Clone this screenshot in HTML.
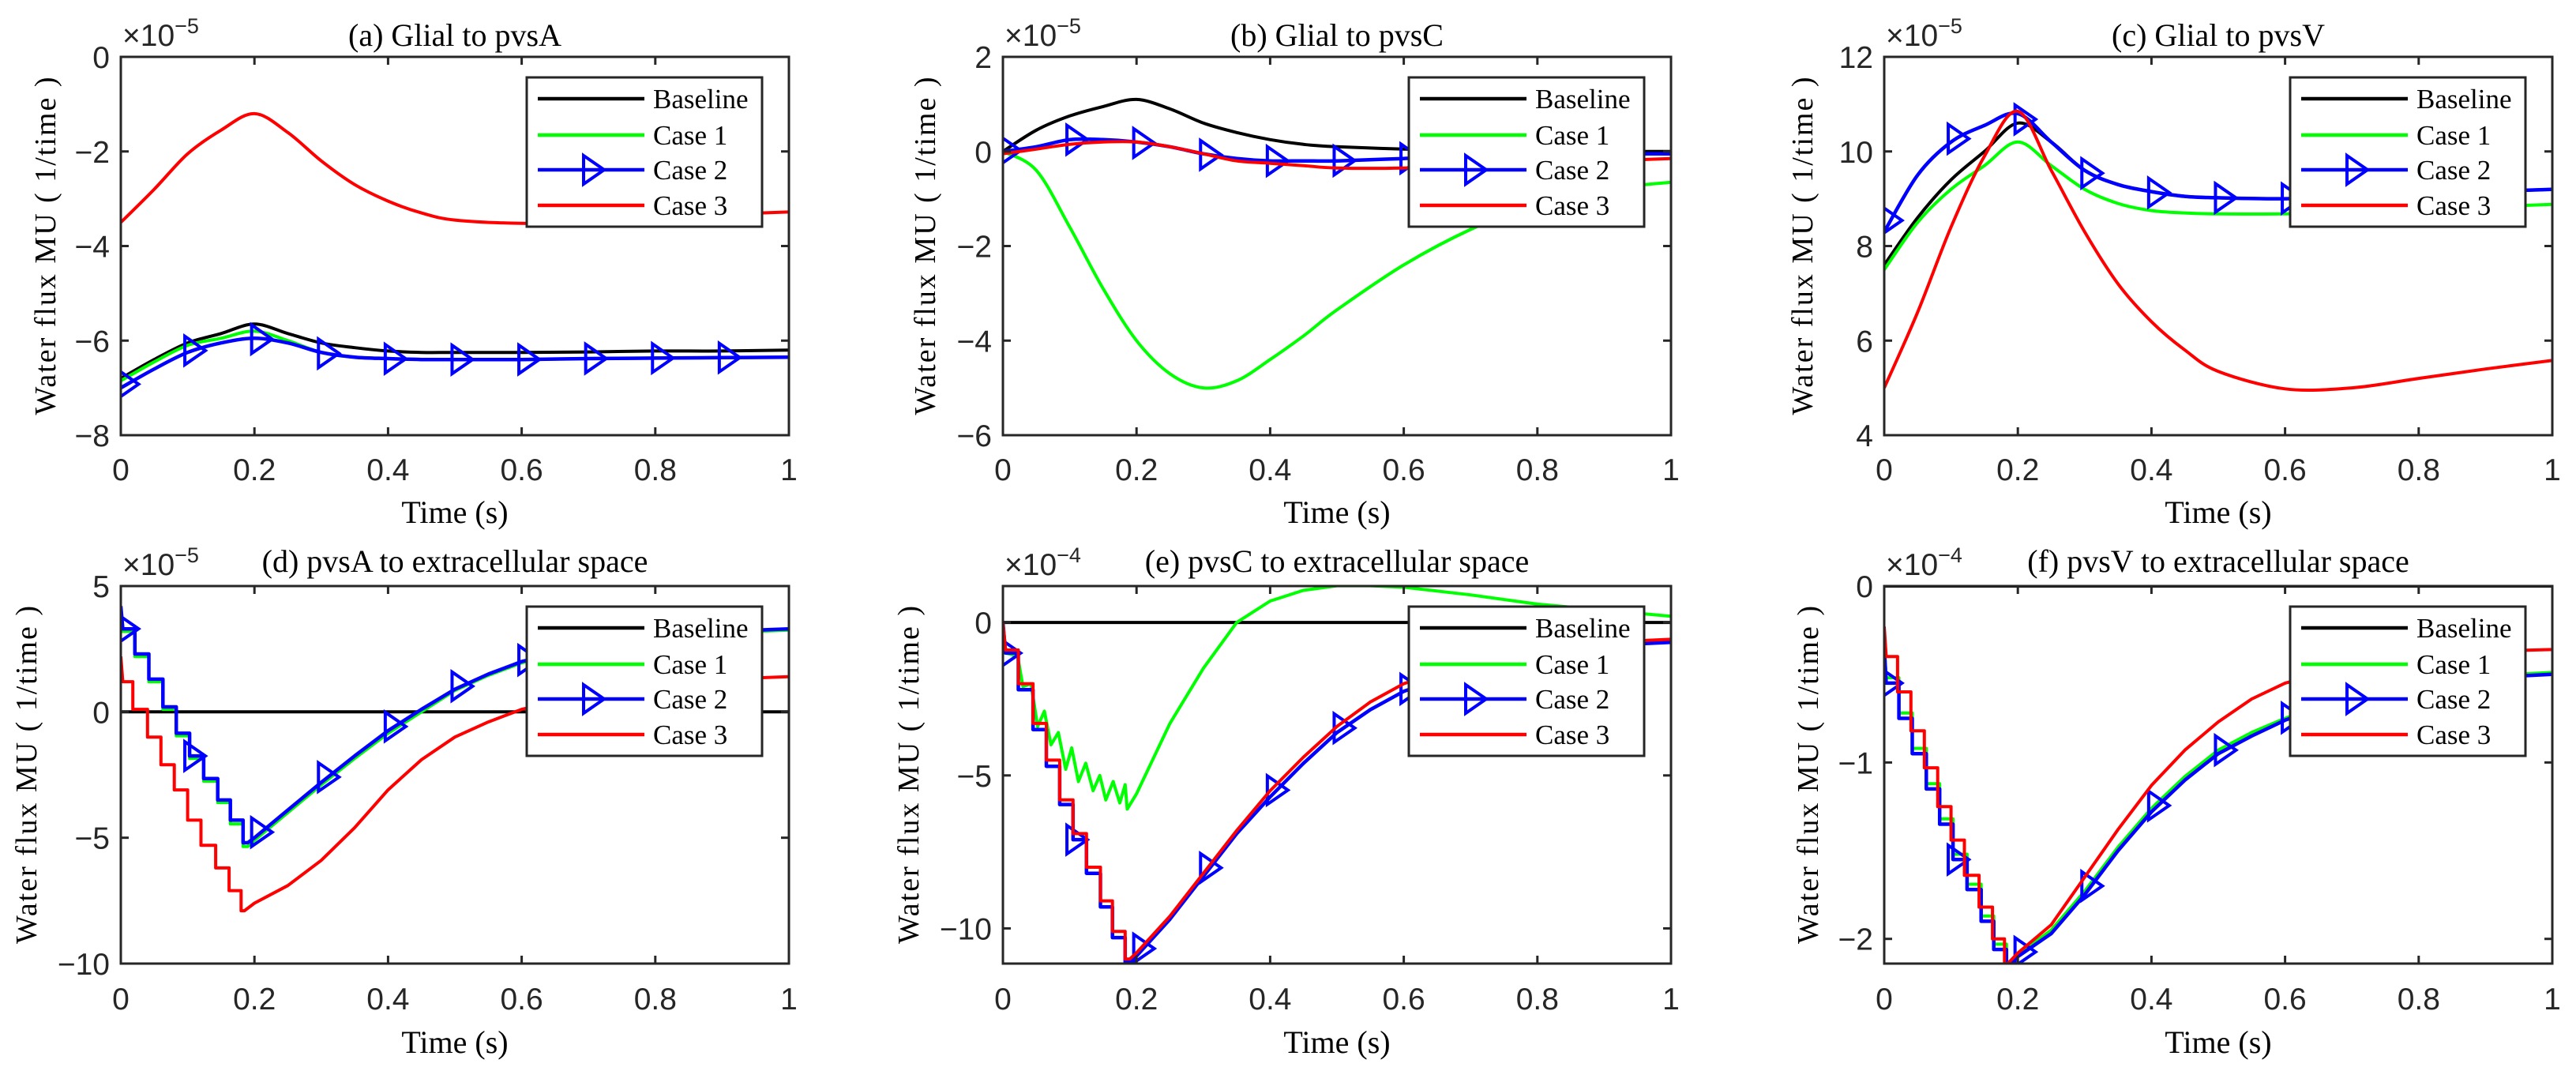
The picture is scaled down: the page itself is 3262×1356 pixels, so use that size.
<!DOCTYPE html>
<html><head><meta charset="utf-8"><style>
html,body{margin:0;padding:0;background:#fff;}
svg{display:block;}
.tk{font-family:"Liberation Sans",sans-serif;font-size:39px;fill:#262626;}
.ser{font-family:"Liberation Serif",serif;fill:#000;}
</style></head><body>
<svg id="fig" width="3262" height="1356" viewBox="0 0 3262 1356" xmlns="http://www.w3.org/2000/svg"></svg>
<script>
// ---------- DATA ----------
const tGrid = [0,0.05,0.1,0.15,0.2,0.25,0.3,0.35,0.4,0.45,0.5,0.6,0.7,0.8,0.9,1];
// (a) Glial to pvsA (x1e-5)
const aBase = [-6.8,-6.4,-6.05,-5.85,-5.65,-5.85,-6.05,-6.15,-6.22,-6.25,-6.25,-6.25,-6.24,-6.22,-6.22,-6.2];
const aC1   = [-6.85,-6.45,-6.1,-5.95,-5.8,-6.0,-6.25,-6.35,-6.38,-6.4,-6.4,-6.4,-6.38,-6.37,-6.36,-6.35];
const aC2   = [-7.0,-6.6,-6.25,-6.05,-5.95,-6.05,-6.25,-6.35,-6.38,-6.4,-6.4,-6.4,-6.38,-6.37,-6.36,-6.35];
const aC3   = [-3.5,-2.8,-2.05,-1.55,-1.2,-1.6,-2.2,-2.7,-3.05,-3.3,-3.45,-3.52,-3.5,-3.4,-3.33,-3.28];
// (b) Glial to pvsC (x1e-5)
const bBase = [0,0.45,0.75,0.95,1.1,0.9,0.6,0.4,0.25,0.15,0.1,0.05,0.02,0,0,0];
const bC1   = [0,-0.4,-1.6,-2.9,-4.0,-4.7,-5.0,-4.85,-4.4,-3.9,-3.35,-2.4,-1.65,-1.1,-0.8,-0.65];
const bC2   = [0,0.1,0.25,0.25,0.2,0.1,-0.05,-0.15,-0.2,-0.2,-0.2,-0.15,-0.1,-0.05,-0.05,-0.05];
const bC3   = [-0.05,0.05,0.15,0.2,0.2,0.1,-0.05,-0.2,-0.25,-0.3,-0.35,-0.35,-0.3,-0.25,-0.2,-0.15];
// (c) Glial to pvsV (x1e-5)
const cBase = [7.6,8.6,9.4,10.0,10.6,10.2,9.6,9.3,9.15,9.05,9.02,9.0,9.05,9.1,9.15,9.2];
const cC1   = [7.5,8.5,9.2,9.7,10.2,9.7,9.2,8.9,8.75,8.7,8.68,8.68,8.72,8.78,8.83,8.88];
const cC2   = [8.3,9.5,10.2,10.55,10.8,10.2,9.6,9.3,9.15,9.05,9.02,9.0,9.05,9.1,9.15,9.2];
const cC3   = [5.0,6.6,8.4,9.9,10.85,9.6,8.3,7.2,6.4,5.8,5.35,4.98,5.0,5.2,5.4,5.58];
// (d) pvsA to extracellular (x1e-5)
const dStepT12 = [0.003,0.021,0.042,0.063,0.083,0.103,0.124,0.145,0.164,0.183,0.19];
const dStepT3  = [0.003,0.018,0.04,0.06,0.08,0.1,0.12,0.142,0.162,0.18,0.185];
const dTail12T = [0.19,0.2,0.25,0.3,0.35,0.4,0.45,0.5,0.55,0.6,0.7,0.8,0.9,1];
const dTail3T  = [0.185,0.2,0.25,0.3,0.35,0.4,0.45,0.5,0.55,0.6,0.7,0.8,0.9,1];
const dBase = [0,0];
const dC1Start = 4.0, dC1Lv = [3.2,2.2,1.2,0.1,-0.95,-1.85,-2.75,-3.6,-4.45,-5.35];
const dC1Tail = [-5.35,-5.1,-4.0,-2.9,-1.85,-0.85,0.0,0.85,1.45,1.95,2.55,2.95,3.15,3.25];
const dC2Start = 4.2, dC2Lv = [3.3,2.3,1.3,0.2,-0.85,-1.75,-2.65,-3.5,-4.3,-5.2];
const dC2Tail = [-5.2,-5.0,-3.9,-2.8,-1.75,-0.75,0.1,0.9,1.5,2.0,2.6,3.0,3.2,3.3];
const dC3Start = 2.2, dC3Lv = [1.2,0.1,-1.0,-2.1,-3.1,-4.3,-5.3,-6.2,-7.1,-7.9];
const dC3Tail = [-7.9,-7.6,-6.9,-5.9,-4.6,-3.1,-1.9,-1.0,-0.4,0.1,0.7,1.1,1.3,1.4];
// (e) pvsC to extracellular (x1e-4)
const eStepT = [0.004,0.023,0.045,0.065,0.085,0.105,0.125,0.146,0.164,0.183,0.19];
const eTailT = [0.19,0.2,0.25,0.3,0.35,0.4,0.45,0.5,0.55,0.6,0.7,0.8,0.9,1];
const eBase = [0,0];
const eC1T = [0,0.004,0.022,0.03,0.042,0.052,0.062,0.072,0.083,0.094,0.103,0.113,0.124,0.135,0.145,0.154,0.165,0.175,0.183,0.186,0.2,0.25,0.3,0.35,0.4,0.45,0.5,0.55,0.6,0.7,0.8,0.9,1];
const eC1V = [0,-1.0,-1.1,-2.1,-2.0,-3.4,-2.9,-4.0,-3.6,-4.8,-4.1,-5.2,-4.6,-5.5,-5.0,-5.8,-5.2,-5.9,-5.3,-6.1,-5.6,-3.3,-1.5,0.0,0.7,1.05,1.2,1.2,1.15,0.9,0.6,0.4,0.2];
const eC2Start = 0, eC2Lv = [-1.0,-2.2,-3.5,-4.7,-5.95,-7.1,-8.2,-9.3,-10.3,-11.1];
const eC2Tail = [-11.1,-10.9,-9.7,-8.3,-6.9,-5.7,-4.6,-3.6,-2.85,-2.25,-1.5,-1.0,-0.75,-0.65];
const eC3Start = 0, eC3Lv = [-0.9,-2.0,-3.3,-4.5,-5.8,-6.9,-8.0,-9.1,-10.1,-11.0];
const eC3Tail = [-11.0,-10.8,-9.6,-8.2,-6.8,-5.5,-4.4,-3.4,-2.6,-2.0,-1.3,-0.9,-0.65,-0.55];
// (f) pvsV to extracellular (x1e-4)
const fStepT12 = [0.003,0.022,0.042,0.063,0.083,0.103,0.124,0.145,0.164,0.183,0.19];
const fStepT3  = [0.003,0.02,0.04,0.06,0.08,0.1,0.12,0.142,0.162,0.18,0.185];
const fTail12T = [0.19,0.2,0.25,0.3,0.35,0.4,0.45,0.5,0.55,0.6,0.7,0.8,0.9,1];
const fTail3T  = [0.185,0.2,0.25,0.3,0.35,0.4,0.45,0.5,0.55,0.6,0.7,0.8,0.9,1];
const fBase = [0,0];
const fC1Start = -0.33, fC1Lv = [-0.52,-0.72,-0.92,-1.12,-1.32,-1.52,-1.69,-1.87,-2.03,-2.13];
const fC1Tail = [-2.13,-2.09,-1.95,-1.73,-1.48,-1.26,-1.08,-0.93,-0.83,-0.75,-0.62,-0.55,-0.51,-0.49];
const fC2Start = -0.35, fC2Lv = [-0.55,-0.75,-0.95,-1.15,-1.35,-1.55,-1.72,-1.9,-2.06,-2.14];
const fC2Tail = [-2.14,-2.1,-1.97,-1.75,-1.5,-1.28,-1.1,-0.95,-0.85,-0.76,-0.63,-0.56,-0.52,-0.5];
const fC3Start = -0.23, fC3Lv = [-0.4,-0.6,-0.82,-1.03,-1.25,-1.44,-1.64,-1.82,-2.0,-2.14];
const fC3Tail = [-2.14,-2.08,-1.92,-1.65,-1.38,-1.13,-0.93,-0.77,-0.64,-0.55,-0.45,-0.4,-0.37,-0.36];

const xTicks = [0,0.2,0.4,0.6,0.8,1];
const xTickLabels = ['0','0.2','0.4','0.6','0.8','1'];
const legendLabels = ['Baseline','Case 1','Case 2','Case 3'];
const titles = ['(a) Glial to pvsA','(b) Glial to pvsC','(c) Glial to pvsV','(d) pvsA to extracellular space','(e) pvsC to extracellular space','(f) pvsV to extracellular space'];
const exps = ['-5','-5','-5','-5','-4','-4'];
const yRanges = [[-8,0],[-6,2],[4,12],[-10,5],[-11.15,1.19],[-2.14,0]];
const yTicks = [[-8,-6,-4,-2,0],[-6,-4,-2,0,2],[4,6,8,10,12],[-10,-5,0,5],[-10,-5,0],[-2,-1,0]];

// ---------- HELPERS ----------
const NS='http://www.w3.org/2000/svg';
const svg=document.getElementById('fig');
function mk(tag,attrs,parent){const e=document.createElementNS(NS,tag);for(const k in attrs)e.setAttribute(k,attrs[k]);(parent||svg).appendChild(e);return e;}
function stairPts(start,stepT,lv,tailT,tailV){
  const p=[[0,start]];
  for(let i=0;i<lv.length;i++){p.push([stepT[i],lv[i]]);p.push([stepT[i+1],lv[i]]);}
  for(let i=0;i<tailT.length;i++)p.push([tailT[i],tailV[i]]);
  return p;
}
function zipPts(t,v){return t.map((x,i)=>[x,v[i]]);}
function interp(pts,t){
  for(let i=pts.length-1;i>0;i--){const a=pts[i-1],b=pts[i];if(t>=a[0]&&t<=b[0]){if(b[0]===a[0])return b[1];return a[1]+(b[1]-a[1])*(t-a[0])/(b[0]-a[0]);}}
  return pts[pts.length-1][1];
}
function smoothPath(P){
  let d='M'+P[0][0].toFixed(1)+','+P[0][1].toFixed(1);
  for(let i=0;i<P.length-1;i++){
    const p0=P[i-1]||P[i],p1=P[i],p2=P[i+1],p3=P[i+2]||P[i+1];
    const c1=[p1[0]+(p2[0]-p0[0])/6,p1[1]+(p2[1]-p0[1])/6];
    const c2=[p2[0]-(p3[0]-p1[0])/6,p2[1]-(p3[1]-p1[1])/6];
    d+='C'+c1[0].toFixed(1)+','+c1[1].toFixed(1)+' '+c2[0].toFixed(1)+','+c2[1].toFixed(1)+' '+p2[0].toFixed(1)+','+p2[1].toFixed(1);
  }
  return d;
}
function linePath(P){return 'M'+P.map(p=>p[0].toFixed(1)+','+p[1].toFixed(1)).join('L');}

const colLeft=[153,1270,2386], W=846;
const rowTop=[72,742], H=[479,478];
const ylabOff=[[83,86,91],[107,107,84]];
const colors=['#000000','#00ff00','#0000ff','#ff0000'];

const panels=[
 {series:[zipPts(tGrid,aBase),zipPts(tGrid,aC1),zipPts(tGrid,aC2),zipPts(tGrid,aC3)],smooth:true},
 {series:[zipPts(tGrid,bBase),zipPts(tGrid,bC1),zipPts(tGrid,bC2),zipPts(tGrid,bC3)],smooth:true},
 {series:[zipPts(tGrid,cBase),zipPts(tGrid,cC1),zipPts(tGrid,cC2),zipPts(tGrid,cC3)],smooth:true},
 {series:[zipPts([0,1],dBase),stairPts(dC1Start,dStepT12,dC1Lv,dTail12T,dC1Tail),stairPts(dC2Start,dStepT12,dC2Lv,dTail12T,dC2Tail),stairPts(dC3Start,dStepT3,dC3Lv,dTail3T,dC3Tail)],smooth:false},
 {series:[zipPts([0,1],eBase),zipPts(eC1T,eC1V),stairPts(eC2Start,eStepT,eC2Lv,eTailT,eC2Tail),stairPts(eC3Start,eStepT,eC3Lv,eTailT,eC3Tail)],smooth:false},
 {series:[zipPts([0,1],fBase),stairPts(fC1Start,fStepT12,fC1Lv,fTail12T,fC1Tail),stairPts(fC2Start,fStepT12,fC2Lv,fTail12T,fC2Tail),stairPts(fC3Start,fStepT3,fC3Lv,fTail3T,fC3Tail)],smooth:false}
];

function tri(g,cx,cy,name){
  const e=mk('path',{d:`M${cx-12},${cy-18}L${cx+14},${cy}L${cx-12},${cy+18}Z`,fill:'none',stroke:'#0000ff','stroke-width':4,'stroke-linejoin':'miter'},g);
  
  
}

panels.forEach((pn,k)=>{
  const r=Math.floor(k/3),c=k%3;
  const L=colLeft[c],T=rowTop[r],h=H[r];
  const [y0,y1]=yRanges[k];
  const X=t=>L+t*W;
  const Y=v=>T+h-(v-y0)/(y1-y0)*h;
  const g=mk('g',{});
  
  
  const cid='clip'+k;
  const cp=mk('clipPath',{id:cid},g);mk('rect',{x:L,y:T,width:W,height:h},cp);
  const sg=mk('g',{'clip-path':`url(#${cid})`},g);
  pn.series.forEach((pts,si)=>{
    const P=pts.map(p=>[X(p[0]),Y(p[1])]);
    const e=mk('path',{d:pn.smooth?smoothPath(P):linePath(P),fill:'none',stroke:colors[si],'stroke-width':si===2?4.5:4,'stroke-linejoin':'round'},sg);
    
    
    if(si===2){
      for(let m=0;m<10;m++){const t=0.01+0.1*m;tri(sg,X(t),Y(interp(pts,t)),'case-2-marker');}
    }
  });
  const box=mk('rect',{x:L,y:T,width:W,height:h,fill:'none',stroke:'#262626','stroke-width':3},g);
  
  
  xTicks.forEach((t,i)=>{
    const x=X(t);
    mk('line',{x1:x,y1:T+h,x2:x,y2:T+h-10,stroke:'#262626','stroke-width':3},g);
    mk('line',{x1:x,y1:T,x2:x,y2:T+10,stroke:'#262626','stroke-width':3},g);
    const tx=mk('text',{x:x,y:r===0?608:1278,'text-anchor':'middle',class:'tk'},g);
    tx.textContent=xTickLabels[i];
    
    
  });
  yTicks[k].forEach(v=>{
    const y=Y(v);
    mk('line',{x1:L,y1:y,x2:L+10,y2:y,stroke:'#262626','stroke-width':3},g);
    mk('line',{x1:L+W,y1:y,x2:L+W-10,y2:y,stroke:'#262626','stroke-width':3},g);
    const tx=mk('text',{x:L-14,y:y+14,'text-anchor':'end',class:'tk'},g);
    tx.textContent=(v<0?'\u2212':'')+Math.abs(v);
    
    
  });
  const ex=mk('text',{x:L+2,y:r===0?58:728,class:'tk','font-size':'36'},g);
  ex.innerHTML='\u00d710<tspan dy="-16" font-size="27">\u2212'+exps[k].slice(1)+'</tspan>';
  
  
  const ti=mk('text',{x:L+W/2,y:r===0?58:724,'text-anchor':'middle',class:'ser','font-size':'40'},g);
  ti.textContent=titles[k];
  
  
  const xl=mk('text',{x:L+W/2,y:r===0?662:1333,'text-anchor':'middle',class:'ser','font-size':'40'},g);
  xl.textContent='Time (s)';
  
  
  const yx=L-ylabOff[r][c],yc=T+h/2;
  const yl=mk('text',{x:yx,y:yc,'text-anchor':'middle',class:'ser','font-size':'38',transform:`rotate(-90 ${yx} ${yc})`,textLength:428,lengthAdjust:'spacing'},g);
  yl.textContent='Water flux MU ( 1/time )';
  
  
  const lx=L+W-332,ly=T+26;
  const lg=mk('g',{},g);
  
  
  mk('rect',{x:lx,y:ly,width:298,height:189,fill:'#fff',stroke:'#262626','stroke-width':3},lg);
  const offs=[27,73,117,162];
  legendLabels.forEach((lab,i)=>{
    const yy=ly+offs[i];
    const ent=mk('g',{},lg);
    
    
    mk('line',{x1:lx+14,y1:yy,x2:lx+149,y2:yy,stroke:colors[i],'stroke-width':4.5},ent);
    if(i===2)tri(ent,lx+84,yy,'legend-marker');
    const tx=mk('text',{x:lx+160,y:yy+12,class:'ser','font-size':'35'},ent);
    tx.textContent=lab;
  });
});
</script>
</body></html>
